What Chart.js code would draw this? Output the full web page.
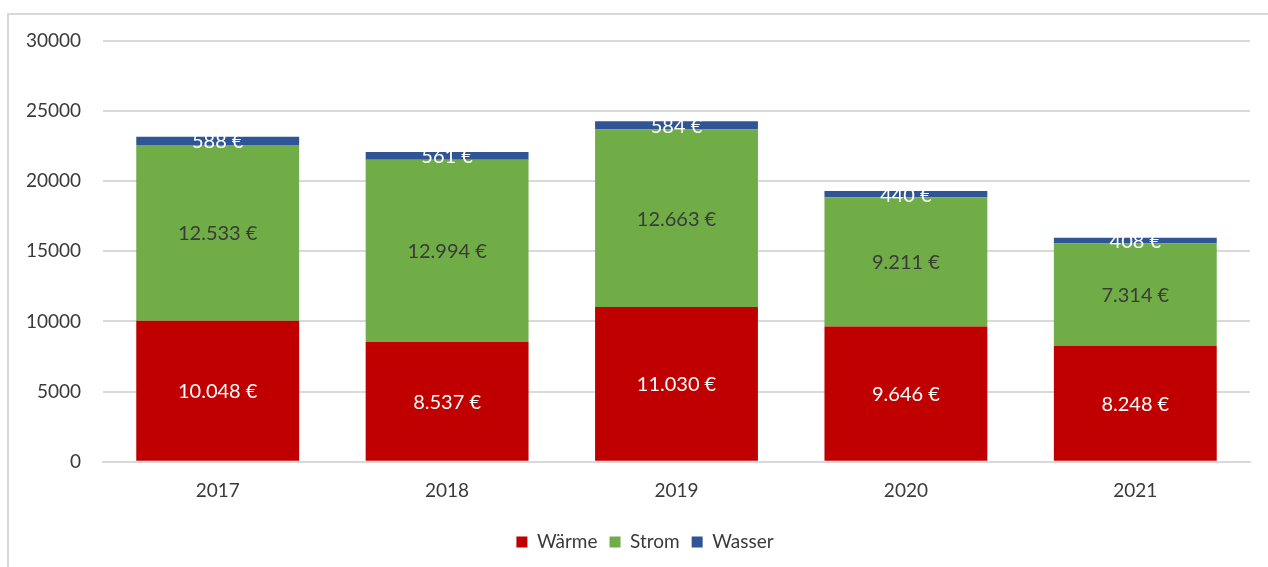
<!DOCTYPE html>
<html>
<head>
<meta charset="utf-8">
<script src="https://cdn.jsdelivr.net/npm/chart.js@4"></script>
<style>
  html, body { margin: 0; padding: 0; background: #fff; }
  #frame {
    position: absolute; left: 7px; top: 13px; width: 1300px; height: 600px;
    border-top: 2px solid #d9d9d9; border-left: 2px solid #d9d9d9;
  }
  #wrap { position: absolute; left: 0; top: 0; width: 1268px; height: 567px; }
</style>
</head>
<body>
<div id="frame"></div>
<div id="wrap"><canvas id="chart" width="1268" height="567"></canvas></div>
<script>
const years = ['2017', '2018', '2019', '2020', '2021'];
const waerme = [10048, 8537, 11030, 9646, 8248];
const strom = [12533, 12994, 12663, 9211, 7314];
const wasser = [588, 561, 584, 440, 408];
const yTicks = [0, 5000, 10000, 15000, 20000, 25000, 30000];

const textColor = '#3a3a3a';
const fontFamily = 'Lato, "Open Sans", sans-serif';

function euro(v) {
  return v.toLocaleString('de-DE') + ' €';
}

// draw the values in the middle of each segment
const valueLabels = {
  id: 'valueLabels',
  afterDatasetsDraw(chart) {
    const ctx = chart.ctx;
    const colors = ['#ffffff', textColor, '#ffffff'];
    ctx.save();
    ctx.font = '20px ' + fontFamily;
    ctx.textAlign = 'center';
    ctx.textBaseline = 'middle';
    chart.data.datasets.forEach((ds, i) => {
      const meta = chart.getDatasetMeta(i);
      meta.data.forEach((bar, j) => {
        const y = (bar.y + bar.base) / 2;
        ctx.fillStyle = colors[i];
        ctx.fillText(euro(ds.data[j]), bar.x, y + 1);
      });
    });
    ctx.restore();
  }
};

// legend sits centred under the plot area, not the whole canvas
const legendShift = {
  id: 'legendShift',
  afterLayout(chart) {
    chart.legend.left += 20;
    chart.legend.right += 20;
  }
};

new Chart(document.getElementById('chart').getContext('2d'), {
  type: 'bar',
  data: {
    labels: years,
    datasets: [
      { label: 'Wärme', data: waerme, backgroundColor: '#c00000' },
      { label: 'Strom', data: strom, backgroundColor: '#70ad47' },
      { label: 'Wasser', data: wasser, backgroundColor: '#2f5597' }
    ]
  },
  options: {
    responsive: false,
    animation: false,
    barPercentage: 0.71,
    categoryPercentage: 1,
    layout: { padding: { left: 0, right: 18, top: 41, bottom: 5.5 } },
    scales: {
      x: {
        stacked: true,
        grid: { display: false, drawTicks: false },
        border: { color: '#d9d9d9', width: 2 },
        ticks: { color: textColor, font: { family: fontFamily, size: 19 }, padding: 18 }
      },
      y: {
        stacked: true,
        min: 0,
        max: 30000,
        afterFit(scale) { scale.width = 103; },
        afterBuildTicks(scale) { scale.ticks = yTicks.map(v => ({ value: v })); },
        grid: { color: '#d9d9d9', lineWidth: 2, drawTicks: false },
        border: { display: false },
        ticks: {
          color: textColor,
          font: { family: fontFamily, size: 19 },
          padding: 22,
          callback: v => String(v)
        }
      }
    },
    plugins: {
      tooltip: { enabled: false },
      legend: {
        position: 'bottom',
        labels: {
          color: textColor,
          font: { family: fontFamily, size: 19 },
          boxWidth: 11,
          boxHeight: 11,
          padding: 12,
          useBorderRadius: false
        }
      }
    }
  },
  plugins: [valueLabels, legendShift]
});
</script>
</body>
</html>
